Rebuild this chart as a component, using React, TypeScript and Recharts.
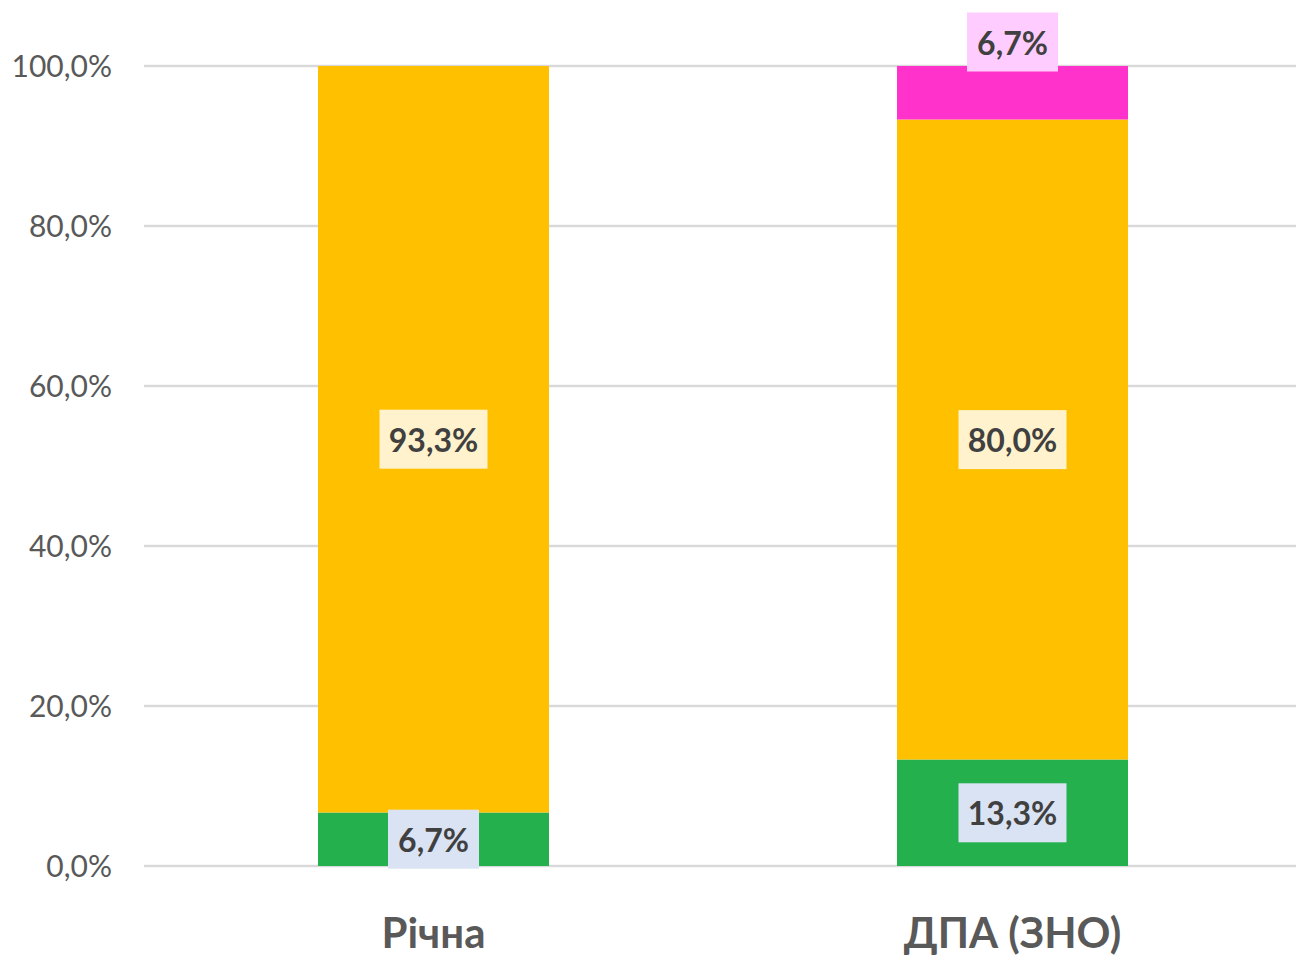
import React from "react";
import { BarChart, Bar, XAxis, YAxis, CartesianGrid, LabelList } from "recharts";

const categories = ["Річна", "ДПА (ЗНО)"];
const greenValues = [6.7, 13.3];
const orangeValues = [93.3, 80.0];
const magentaValues = [0, 6.7];
const yTicks = [0, 20, 40, 60, 80, 100];

const data = categories.map((name, i) => ({
  name,
  green: greenValues[i],
  orange: orangeValues[i],
  magenta: magentaValues[i],
}));

const fmt = (v: number) => `${v.toFixed(1).replace(".", ",")}%`;

const makeLabel = (bg: string, placement: "center" | "top") => (props: any) => {
  const vb = props.viewBox || props;
  const x = props.x ?? vb.x;
  const y = props.y ?? vb.y;
  const width = props.width ?? vb.width;
  const height = props.height ?? vb.height;
  const value = props.value;
  if (!value) return null;
  const text = fmt(Number(value));
  const cx = x + width / 2;
  const cy = placement === "top" ? y - 24 : y + height / 2;
  const w = 17 * text.length + 23;
  const h = 59;
  return (
    <g>
      <rect x={cx - w / 2} y={cy - h / 2} width={w} height={h} fill={bg} />
      <text
        x={cx}
        y={cy}
        textAnchor="middle"
        dominantBaseline="central"
        fontFamily="Lato"
        fontWeight={700}
        fontSize={32}
        fill="#404040"
      >
        {text}
      </text>
    </g>
  );
};

export default function App() {
  return (
    <div
      style={{
        position: "absolute",
        left: 0,
        top: 0,
        width: 1296,
        height: 957,
        overflow: "hidden",
        background: "#fff",
        fontFamily: "Lato",
      }}
    >
      <BarChart
        width={1302}
        height={957}
        data={data}
        margin={{ top: 66, right: 0, left: 0, bottom: 0 }}
        barSize={231}
      >
        <CartesianGrid vertical={false} stroke="#d9d9d9" strokeWidth={2.5} />
        <XAxis
          dataKey="name"
          height={91}
          axisLine={false}
          tickLine={false}
          tickSize={0}
          tickMargin={52}
          tick={{ fontFamily: "Lato", fontWeight: 700, fontSize: 42, fill: "#595959" }}
        />
        <YAxis
          width={144}
          domain={[0, 100]}
          ticks={yTicks}
          tickFormatter={fmt}
          axisLine={false}
          tickLine={false}
          tickSize={0}
          tickMargin={32}
          tick={{ fontFamily: "Lato", fontSize: 30, fill: "#595959" }}
        />
        <Bar dataKey="green" stackId="a" fill="#23B04D" isAnimationActive={false}>
          <LabelList dataKey="green" content={makeLabel("#DAE3F3", "center")} />
        </Bar>
        <Bar dataKey="orange" stackId="a" fill="#FFC000" isAnimationActive={false}>
          <LabelList dataKey="orange" content={makeLabel("#FFF2CC", "center")} />
        </Bar>
        <Bar dataKey="magenta" stackId="a" fill="#FF33CC" isAnimationActive={false}>
          <LabelList dataKey="magenta" content={makeLabel("#FFCCFF", "top")} />
        </Bar>
      </BarChart>
    </div>
  );
}
